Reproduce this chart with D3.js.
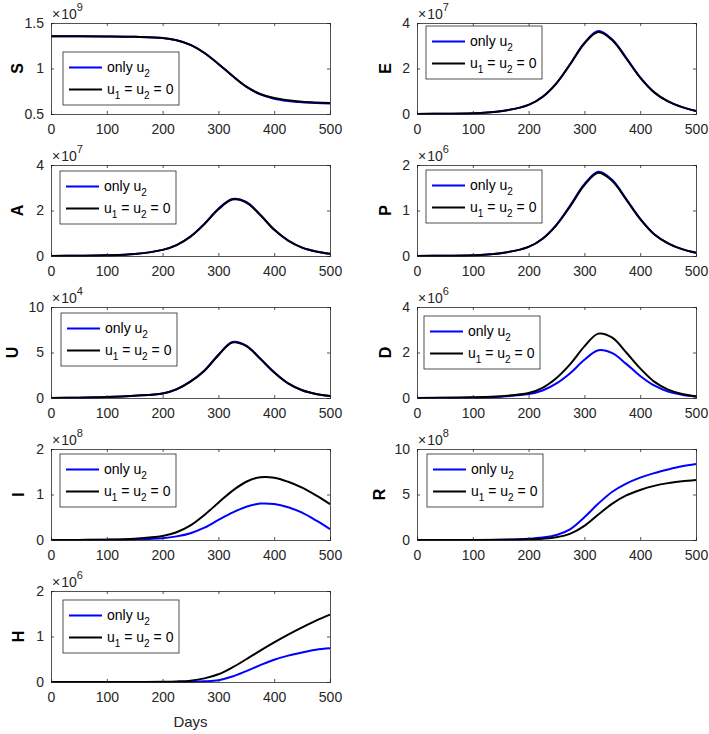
<!DOCTYPE html>
<html>
<head>
<meta charset="utf-8">
<script src="https://cdn.jsdelivr.net/npm/d3@7"></script>
<style>
  body { margin: 0; background: #fff; }
  svg { display: block; font-family: "Liberation Sans", Arial, sans-serif; }
</style>
</head>
<body>
<svg id="chart" width="709" height="734"></svg>
<script>
// sample days (x values)
const days = [0, 50, 100, 150, 200, 225, 250, 275, 300, 325, 350, 375, 400, 425, 450, 475, 500];
const dayTicks = [0, 100, 200, 300, 400, 500];

// values in units of the panel's exponent
const S_u2 = [1.355, 1.355, 1.353, 1.348, 1.335, 1.31, 1.26, 1.17, 1.05, 0.92, 0.80, 0.715, 0.668, 0.643, 0.628, 0.62, 0.615];
const S_0  = [1.355, 1.355, 1.353, 1.348, 1.335, 1.31, 1.26, 1.17, 1.05, 0.92, 0.80, 0.72, 0.675, 0.65, 0.635, 0.627, 0.622];
const E_u2 = [0.005, 0.01, 0.03, 0.12, 0.4, 0.76, 1.36, 2.22, 3.13, 3.65, 3.28, 2.47, 1.61, 0.96, 0.55, 0.3, 0.13];
const E_0  = [0.005, 0.01, 0.03, 0.12, 0.4, 0.75, 1.35, 2.2, 3.1, 3.6, 3.24, 2.44, 1.6, 0.95, 0.55, 0.3, 0.13];
const A_u2 = [0.003, 0.01, 0.03, 0.09, 0.27, 0.48, 0.86, 1.42, 2.08, 2.51, 2.38, 1.82, 1.16, 0.68, 0.37, 0.2, 0.1];
const A_0  = [0.003, 0.01, 0.03, 0.09, 0.27, 0.48, 0.85, 1.4, 2.05, 2.48, 2.35, 1.8, 1.15, 0.68, 0.37, 0.2, 0.1];
const P_u2 = [0.002, 0.005, 0.015, 0.06, 0.2, 0.38, 0.69, 1.12, 1.58, 1.85, 1.67, 1.25, 0.82, 0.48, 0.28, 0.15, 0.07];
const P_0  = [0.002, 0.005, 0.015, 0.06, 0.2, 0.38, 0.68, 1.1, 1.56, 1.83, 1.65, 1.24, 0.81, 0.48, 0.28, 0.15, 0.07];
const U_u2 = [0.01, 0.03, 0.1, 0.25, 0.5, 0.96, 1.82, 3.03, 4.75, 6.15, 5.75, 4.33, 2.82, 1.6, 0.85, 0.45, 0.22];
const U_0  = [0.01, 0.03, 0.1, 0.25, 0.5, 0.95, 1.8, 3.0, 4.7, 6.1, 5.7, 4.3, 2.8, 1.6, 0.85, 0.45, 0.22];
const D_u2 = [0, 0.01, 0.02, 0.06, 0.17, 0.33, 0.64, 1.1, 1.68, 2.1, 1.97, 1.5, 0.97, 0.55, 0.28, 0.14, 0.06];
const D_0  = [0, 0.01, 0.03, 0.08, 0.22, 0.45, 0.88, 1.5, 2.27, 2.83, 2.65, 2.0, 1.3, 0.72, 0.37, 0.18, 0.08];
const I_u2 = [0, 0.001, 0.004, 0.013, 0.04, 0.08, 0.15, 0.27, 0.44, 0.6, 0.73, 0.8, 0.79, 0.72, 0.6, 0.43, 0.24];
const I_0  = [0, 0.002, 0.008, 0.03, 0.09, 0.17, 0.32, 0.55, 0.82, 1.08, 1.28, 1.38, 1.37, 1.28, 1.15, 0.98, 0.79];
const R_u2 = [0, 0.002, 0.01, 0.04, 0.15, 0.28, 0.55, 1.2, 2.5, 4.0, 5.3, 6.2, 6.85, 7.35, 7.75, 8.1, 8.35];
const R_0  = [0, 0.001, 0.006, 0.025, 0.08, 0.15, 0.3, 0.7, 1.55, 2.8, 4.0, 4.9, 5.5, 5.95, 6.25, 6.45, 6.6];
const H_u2 = [0, 0, 0, 0, 0.001, 0.002, 0.005, 0.015, 0.04, 0.12, 0.24, 0.37, 0.49, 0.58, 0.65, 0.71, 0.74];
const H_0  = [0, 0, 0, 0.001, 0.005, 0.012, 0.03, 0.08, 0.17, 0.32, 0.5, 0.69, 0.87, 1.04, 1.2, 1.35, 1.48];

const names = ['S', 'E', 'A', 'P', 'U', 'D', 'I', 'R', 'H'];
const exponents = [9, 7, 7, 6, 4, 6, 8, 8, 6];
const yTicks = [[0.5, 1, 1.5], [0, 2, 4], [0, 2, 4], [0, 1, 2], [0, 5, 10], [0, 2, 4], [0, 1, 2], [0, 5, 10], [0, 1, 2]];
const seriesU2 = [S_u2, E_u2, A_u2, P_u2, U_u2, D_u2, I_u2, R_u2, H_u2];
const series0 = [S_0, E_0, A_0, P_0, U_0, D_0, I_0, R_0, H_0];

// layout
const colX = [51, 417];
const rowY = [23, 165, 307, 449, 591];
const W = 279, H = 91;
const legendPos = [[12, 29], [9, 3], [9, 6], [9, 5], [10, 6], [7, 9], [9, 5], [10, 5], [12, 9]];
const labelOff = [-28, -26, -28, -26, -33, -26, -27, -32, -27];
const axisColor = '#262626';

const svg = d3.select('#chart');
const x = d3.scaleLinear().domain([0, 500]).range([0, W]);

names.forEach((name, k) => {
  const col = k % 2, row = Math.floor(k / 2);
  const g = svg.append('g')
    .attr('transform', `translate(${colX[col]},${rowY[row]})`);
  const ticks = yTicks[k];
  const y = d3.scaleLinear().domain([ticks[0], ticks[ticks.length - 1]]).range([H, 0]);

  const line = d3.line()
    .x((d, i) => x(days[i]))
    .y(d => y(d))
    .curve(d3.curveCatmullRom.alpha(0.5));

  g.append('path').datum(seriesU2[k])
    .attr('d', line).attr('fill', 'none')
    .attr('stroke', '#0000ff').attr('stroke-width', 2);
  g.append('path').datum(series0[k])
    .attr('d', line).attr('fill', 'none')
    .attr('stroke', '#000000').attr('stroke-width', 2);

  // axes, ticks pointing inward on all four sides
  const bottom = g.append('g').attr('transform', `translate(0,${H})`)
    .call(d3.axisBottom(x).tickValues(dayTicks).tickSize(-3).tickPadding(10));
  const top = g.append('g')
    .call(d3.axisTop(x).tickValues(dayTicks).tickSize(-3).tickFormat(''));
  const left = g.append('g')
    .call(d3.axisLeft(y).tickValues(ticks).tickSize(-3).tickPadding(7).tickFormat(d => String(d)));
  const right = g.append('g').attr('transform', `translate(${W},0)`)
    .call(d3.axisRight(y).tickValues(ticks).tickSize(-3).tickFormat(''));

  [bottom, top, left, right].forEach(a => {
    a.select('.domain').attr('stroke', axisColor).attr('stroke-width', 0.8);
    a.selectAll('.tick line').attr('stroke', axisColor).attr('stroke-width', 0.8);
    a.selectAll('.tick text').attr('fill', axisColor).attr('font-size', 14)
      .attr('font-family', '"Liberation Sans", Arial, sans-serif');
  });

  // exponent
  const ex = g.append('text').attr('x', 1).attr('y', -4.5)
    .attr('font-size', 14).attr('fill', axisColor);
  ex.append('tspan').text('\u00d7');
  ex.append('tspan').attr('dx', 1).text('10');
  ex.append('tspan').attr('font-size', 11).attr('dy', -8).text(exponents[k]);

  // y label
  g.append('text')
    .attr('transform', `translate(${labelOff[k]},${H / 2}) rotate(-90)`)
    .attr('text-anchor', 'middle')
    .attr('font-size', 16).attr('font-weight', 'bold').attr('fill', '#000')
    .text(name);

  // legend
  const lg = g.append('g')
    .attr('transform', `translate(${legendPos[k][0]},${legendPos[k][1]})`);
  lg.append('rect').attr('width', 116).attr('height', 53)
    .attr('fill', '#fff').attr('stroke', axisColor).attr('stroke-width', 0.8);
  lg.append('line').attr('x1', 6).attr('x2', 39).attr('y1', 15.5).attr('y2', 15.5)
    .attr('stroke', '#0000ff').attr('stroke-width', 2);
  lg.append('line').attr('x1', 6).attr('x2', 39).attr('y1', 37.5).attr('y2', 37.5)
    .attr('stroke', '#000').attr('stroke-width', 2);
  const t1 = lg.append('text').attr('x', 44).attr('y', 20).attr('font-size', 14).attr('fill', '#000');
  t1.append('tspan').text('only u');
  t1.append('tspan').attr('font-size', 10).attr('dy', 5).text('2');
  const t2 = lg.append('text').attr('x', 44).attr('y', 42).attr('font-size', 14).attr('fill', '#000');
  t2.append('tspan').text('u');
  t2.append('tspan').attr('font-size', 10).attr('dy', 5).text('1');
  t2.append('tspan').attr('dy', -5).text(' = u');
  t2.append('tspan').attr('font-size', 10).attr('dy', 5).text('2');
  t2.append('tspan').attr('dy', -5).text(' = 0');
});

svg.append('text')
  .attr('x', colX[0] + W / 2).attr('y', 727)
  .attr('text-anchor', 'middle').attr('font-size', 15).attr('fill', axisColor)
  .text('Days');
</script>
</body>
</html>
